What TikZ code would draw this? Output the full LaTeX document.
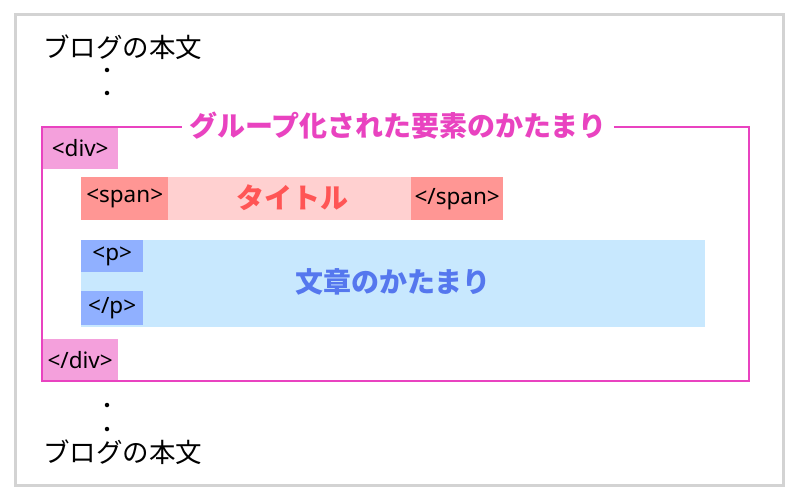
\documentclass[tikz,border=0pt]{standalone}
\usepackage{fontspec}
\setmainfont{Noto Sans}
\newfontfamily\jp{Noto Sans CJK JP}
\definecolor{framegray}{HTML}{D3D3D3}
\definecolor{divc}{HTML}{F4A0DC}
\definecolor{spanc}{HTML}{FF9694}
\definecolor{titlebg}{HTML}{FFD0D0}
\definecolor{titletext}{HTML}{FF5555}
\definecolor{bluebg}{HTML}{C8E8FE}
\definecolor{pc}{HTML}{90B0FF}
\definecolor{bluetext}{HTML}{5577EE}
\definecolor{grpc}{HTML}{E943C0}
\tikzset{
  tagbox/.style={anchor=north west, inner sep=0pt, text=black,
    font=\fontsize{22.5}{22.5}\selectfont},
  bodytext/.style={anchor=west, inner sep=0pt, font=\jp\fontsize{26.5}{26.5}\selectfont},
  bigbold/.style={inner sep=0pt, font=\jp\bfseries\fontsize{28}{28}\selectfont},
  dotm/.style={circle, fill=black, inner sep=0pt, minimum size=4.5pt},
}
\begin{document}
\begin{tikzpicture}[x=1pt,y=-1pt]
\useasboundingbox (0,0) rectangle (800,500);
\fill[white] (0,0) rectangle (800,500);
\draw[framegray, line width=3pt] (15,15) rectangle (783,485);
% top text
\node[bodytext] (top) at (43,47) {ブログの本文};
\node[dotm] (d1) at (107,70) {};
\node[dotm] (d2) at (107,93) {};
% div tags
\node[tagbox, fill=divc, minimum width=76, minimum height=42] (divo) at (42,127) {<div>};
\node[tagbox, fill=divc, minimum width=76, minimum height=42] (divc) at (42,339) {</div>};
% span row
\node[anchor=north west, fill=titlebg, minimum width=243, minimum height=43, inner sep=0pt] (spanmid) at (168,177) {};
\node[tagbox, fill=spanc, minimum width=87, minimum height=43] (spano) at (81,177) {<span>};
\node[tagbox, fill=spanc, minimum width=92, minimum height=43] (spanc) at (411,177) {</span>};
\node[bigbold, text=titletext] (title) at (292,198) {タイトル};
% p block
\node[anchor=north west, fill=bluebg, minimum width=624, minimum height=87, inner sep=0pt] (pblock) at (81,240) {};
\node[tagbox, fill=pc, minimum width=62, minimum height=32] (po) at (81,240) {<p>};
\node[tagbox, fill=pc, minimum width=62, minimum height=34] (pc) at (81,291) {</p>};
\node[bigbold, text=bluetext] (ptext) at (393,282) {文章のかたまり};
% group frame
\node[bigbold, text=grpc, inner xsep=7pt] (grp) at (398,126) {グループ化された要素のかたまり};
\coordinate (tr) at (749,127);
\coordinate (br) at (749,381);
\coordinate (bl) at (42,381);
\coordinate (tl) at (42,127);
\draw[grpc, line width=1.3pt] (grp.east |- tr) -- (tr) -- (br) -- (bl) -- (tl) -- (grp.west |- tl);
% bottom
\node[dotm] (d3) at (107,405) {};
\node[dotm] (d4) at (107,429) {};
\node[bodytext] (bot) at (43,452) {ブログの本文};
\end{tikzpicture}
\end{document}
